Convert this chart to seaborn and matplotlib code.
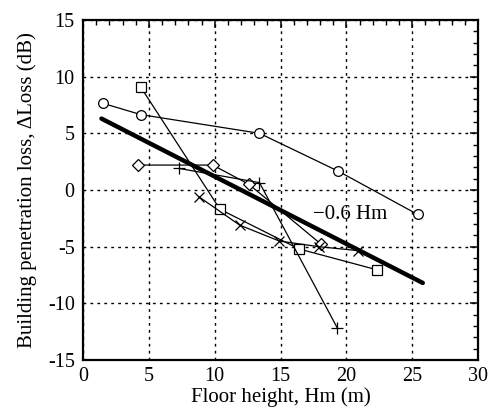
import matplotlib
matplotlib.use("Agg")
import matplotlib.pyplot as plt
import seaborn as sns
import pandas as pd
from matplotlib.ticker import MultipleLocator

sns.set_theme(style="white")
plt.rcParams['font.family'] = ['Liberation Serif', 'DejaVu Serif']
plt.rcParams['axes.unicode_minus'] = False

# data
circle_x = [1.5, 4.4, 13.4, 19.4, 25.4]
circle_y = [7.65, 6.65, 5.0, 1.65, -2.15]
square_x = [4.4, 10.4, 16.4, 22.35]
square_y = [9.05, -1.7, -5.2, -7.05]
diamond_x = [4.15, 9.85, 12.6, 18.1]
diamond_y = [2.2, 2.2, 0.5, -4.8]
plus_x = [7.3, 13.4, 19.3]
plus_y = [1.9, 0.65, -12.15]
cross_x = [8.8, 11.9, 14.9, 17.9, 20.9]
cross_y = [-0.6, -3.1, -4.5, -5.0, -5.35]
fit_x = [1.4, 25.8]
fit_y = [6.3, -8.2]

series = [
    ("circle", circle_x, circle_y, "o", 7),
    ("square", square_x, square_y, "s", 6.5),
    ("diamond", diamond_x, diamond_y, "D", 6.5),
    ("plus", plus_x, plus_y, "+", 9),
    ("cross", cross_x, cross_y, "x", 7.5),
]

fig = plt.figure(figsize=(4.98, 4.13), dpi=100)
ax = fig.add_axes([0.1667, 0.1283, 0.7933, 0.8233])

for name, xs, ys, m, ms in series:
    df = pd.DataFrame({"x": xs, "y": ys})
    sns.lineplot(data=df, x="x", y="y", ax=ax, sort=False, color="black",
                 linewidth=0.9, marker=m, markersize=ms,
                 markerfacecolor="white" if m in "osD" else "black",
                 markeredgecolor="black", markeredgewidth=0.9)

fdf = pd.DataFrame({"x": fit_x, "y": fit_y})
sns.lineplot(data=fdf, x="x", y="y", ax=ax, color="black", linewidth=3.2)

ax.text(17.5, -2.2, "\u22120.6 Hm", fontsize=15, va="center", ha="left",
        color="black")

ax.set_xlim(0, 30)
ax.set_ylim(-15, 15)
ax.xaxis.set_major_locator(MultipleLocator(5))
ax.xaxis.set_minor_locator(MultipleLocator(1))
ax.yaxis.set_major_locator(MultipleLocator(5))
ax.yaxis.set_minor_locator(MultipleLocator(1))
ax.tick_params(which="both", direction="in", top=True, right=True,
               colors="black", labelsize=14.5)
ax.tick_params(axis="x", pad=5)
ax.tick_params(axis="y", pad=6)
ax.tick_params(which="major", length=6, width=1.1)
ax.tick_params(which="minor", length=3.5, width=1.0)
ax.grid(True, which="major", linestyle=(0, (2, 3)), color="black",
        linewidth=1.0)
for s in ax.spines.values():
    s.set_color("black")
    s.set_linewidth(1.6)
ax.set_xlabel("Floor height, Hm (m)", fontsize=15, color="black", labelpad=1)
ax.set_ylabel("Building penetration loss, \u0394Loss (dB)", fontsize=15,
              color="black", labelpad=8)

fig.savefig("out.png", dpi=100)
